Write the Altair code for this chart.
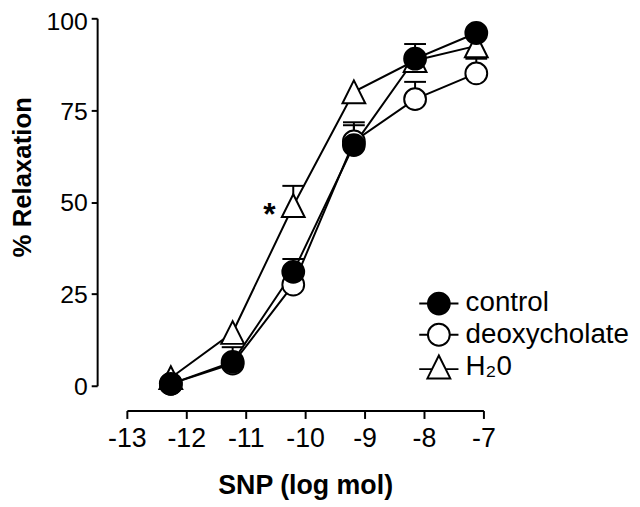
import altair as alt
import pandas as pd

# ---- data ----
dose = [-12.26, -11.22, -10.2, -9.18, -8.15, -7.12]
series_names = ["control", "deoxycholate", "H₂0"]
control = [0.5, 6.5, 31.0, 65.5, 89.0, 96.0]
control_hi = [None, 10.5, 34.5, 71.7, 93.0, None]
deoxy = [0.5, 6.0, 27.5, 66.5, 78.0, 85.0]
deoxy_hi = [None, None, None, 70.9, 82.7, 89.0]
h2o = [2.2, 14.5, 49.0, 80.0, 88.5, 92.5]
h2o_hi = [None, None, 54.4, None, None, None]
star_x = [-10.6]
star_y = [43.8]
star_text = ["*"]
x_ticks = [-13, -12, -11, -10, -9, -8, -7]
y_ticks = [0, 25, 50, 75, 100]

FONT = "Liberation Sans"

rows = []
for name, vals, his in [("control", control, control_hi),
                        ("deoxycholate", deoxy, deoxy_hi),
                        ("H₂0", h2o, h2o_hi)]:
    for d, v, h in zip(dose, vals, his):
        rows.append({"series": name, "dose": d, "value": v, "hi": h})
df = pd.DataFrame(rows)
df_err = df.dropna(subset=["hi"])
star_df = pd.DataFrame({"x": star_x, "y": star_y, "t": star_text})

x_scale = alt.Scale(domain=[-13, -7], nice=False, zero=False)
y_scale = alt.Scale(domain=[0, 100], nice=False, zero=False)

x_enc = alt.X(
    "dose:Q",
    scale=x_scale,
    axis=alt.Axis(
        values=x_ticks, offset=25, tickSize=8, labelPadding=7,
        labelExpr="'' + datum.value", labelFlush=False, labelOverlap=False,
        labelFontSize=27, labelFont=FONT, labelColor="black",
        domainWidth=2, tickWidth=2, domainColor="black", tickColor="black",
        grid=False,
        title="SNP (log mol)", titleFont=FONT, titleFontSize=27,
        titleFontWeight="bold", titleColor="black",
        titleX=180, titleY=84, titleAlign="center", titleBaseline="alphabetic",
    ),
)
y_enc = alt.Y(
    "value:Q",
    scale=y_scale,
    axis=alt.Axis(
        values=y_ticks, offset=30, tickSize=6, labelPadding=4,
        labelFontSize=25, labelFont=FONT, labelColor="black",
        labelOffset={"condition": {"test": "datum.value == 100", "value": 3},
                     "value": 1},
        domainWidth=2, tickWidth=2, domainColor="black", tickColor="black",
        grid=False,
        title="% Relaxation", titleFont=FONT, titleFontSize=26,
        titleFontWeight="bold", titleColor="black",
        titleX=-67, titleY=160, titleAngle=270, titleAlign="center",
        titleBaseline="alphabetic",
    ),
)

base = alt.Chart(df)

lines = base.mark_line(color="black", strokeWidth=2).encode(
    x=x_enc, y=y_enc, detail="series:N"
)

err_rules = alt.Chart(df_err).mark_rule(color="black", strokeWidth=2).encode(
    x=x_enc, y=y_enc, y2="hi:Q"
)
err_caps = alt.Chart(df_err).mark_tick(
    orient="horizontal", size=22, thickness=2, color="black", opacity=1
).encode(x=x_enc, y=alt.Y("hi:Q", scale=y_scale))

TRI = "M0,-1L1,1L-1,1Z"

def pts(name, shape, size, fill):
    return base.transform_filter(alt.datum.series == name).mark_point(
        shape=shape, size=size, filled=True, fill=fill, stroke="black",
        strokeWidth=2, opacity=1
    ).encode(x=x_enc, y=y_enc)

p_deoxy = pts("deoxycholate", "circle", 484, "white")
p_h2o = pts("H₂0", TRI, 529, "white")
p_control = pts("control", "circle", 484, "black")

# legend glyphs: a short line through the marker (unit coordinates);
# the filled dot is drawn as tightly packed rings
RING = "A{r},{r},0,1,1,{r},0A{r},{r},0,1,1,-{r},0"
def ring(r):
    return "M-{r},0".format(r=r) + RING.format(r=r)
LEG_OPEN = "M-1.8,0H-1M1,0H1.8" + ring(1)
LEG_FILLED = LEG_OPEN + "".join(ring(r) for r in [0.85, 0.7, 0.55, 0.4, 0.25, 0.1])
LEG_TRI = "M-1.8,0.2H-0.6M0.6,0.2H1.8M0,-1.05L1.05,1.05L-1.05,1.05Z"

leg = alt.Legend(
    orient="none", legendX=301, legendY=274, padding=0, rowPadding=1.5,
    labelOffset=13, labelFontSize=28, labelFont=FONT, labelColor="black",
    labelLimit=400, symbolFillColor="white",
    symbolStrokeColor="black", symbolStrokeWidth=2, symbolSize=484,
    symbolOpacity=1,
)
# legend-only layer: its data is filtered away, the legend comes from the
# explicit scale domain
legend_layer = base.transform_filter("datum.value < -1000").mark_point(
    filled=False, strokeWidth=2, size=484
).encode(
    x=x_enc, y=y_enc,
    shape=alt.Shape("series:N", title=None,
                    scale=alt.Scale(domain=series_names,
                                    range=[LEG_FILLED, LEG_OPEN, LEG_TRI]),
                    legend=leg),
)

star = alt.Chart(star_df).mark_text(
    fontSize=32, fontWeight="bold", font=FONT, baseline="alphabetic",
    align="center", color="black"
).encode(
    x=alt.X("x:Q", scale=x_scale),
    y=alt.Y("y:Q", scale=y_scale),
    text="t:N",
)

chart = alt.layer(
    lines, err_rules, err_caps, p_deoxy, p_h2o, p_control, legend_layer, star
).properties(
    width=360, height=371,
    padding={"left": 120, "top": 8, "right": 150, "bottom": 120},
    autosize=alt.AutoSizeParams(type="none"),
    background="white",
).configure_view(stroke=None)

chart.save("out.html", embed_options={"renderer": "svg", "actions": False})
